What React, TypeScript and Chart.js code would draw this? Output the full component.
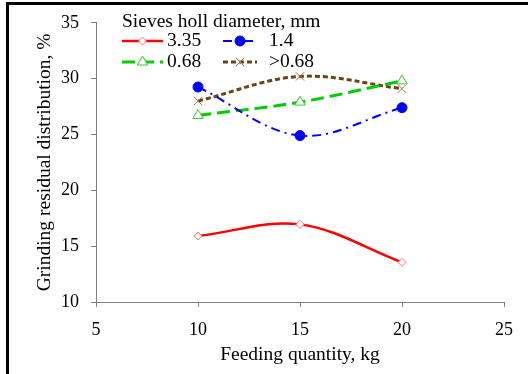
import React, { useEffect, useRef } from 'react';
import { Chart, registerables } from 'chart.js';

Chart.register(...registerables);

// ---- data ----
const feeding = [10, 15, 20];
const s335 = [15.9, 16.95, 13.55];
const s14 = [29.25, 24.9, 27.4];
const s068 = [26.7, 27.9, 29.8];
const sGt068 = [28.0, 30.2, 29.1];
const seriesLabels = ['3.35', '1.4', '0.68', '>0.68'];
const xRange = [5, 25];
const yRange = [10, 35];
const tickStep = 5;
const legendTitle = 'Sieves holl diameter, mm';
const xTitle = 'Feeding quantity, kg';
const yTitle = 'Grinding residual distribution, %';

const FONT = "'Liberation Serif', 'Times New Roman', serif";
const FS_TICK = 18;
const FS_TITLE = 19.5;

function drawMarker(ctx: CanvasRenderingContext2D, style: string, x: number, y: number, r: number, fill: string, stroke: string, lw: number) {
  ctx.save();
  ctx.setLineDash([]);
  ctx.lineWidth = lw;
  ctx.strokeStyle = stroke;
  ctx.fillStyle = fill;
  ctx.beginPath();
  if (style === 'rectRot') {
    ctx.moveTo(x, y - r); ctx.lineTo(x + r, y); ctx.lineTo(x, y + r); ctx.lineTo(x - r, y); ctx.closePath();
    ctx.fill(); ctx.stroke();
  } else if (style === 'circle') {
    ctx.arc(x, y, r, 0, Math.PI * 2); ctx.fill(); ctx.stroke();
  } else if (style === 'triangle') {
    ctx.moveTo(x, y - r); ctx.lineTo(x + r * 0.866, y + r * 0.5); ctx.lineTo(x - r * 0.866, y + r * 0.5); ctx.closePath();
    ctx.fill(); ctx.stroke();
  } else if (style === 'crossRot') {
    const d = r * 0.7071;
    ctx.moveTo(x - d, y - d); ctx.lineTo(x + d, y + d);
    ctx.moveTo(x + d, y - d); ctx.lineTo(x - d, y + d);
    ctx.stroke();
  }
  ctx.restore();
}

const framePlugin = {
  id: 'frame',
  afterDraw(chart: any) {
    const ctx = chart.ctx as CanvasRenderingContext2D;
    ctx.save();
    ctx.fillStyle = '#000';
    ctx.fillRect(6, 2, 528, 3);
    ctx.fillRect(6, 2, 3, 374);
    ctx.restore();
  },
};

const legendPlugin = {
  id: 'customLegend',
  afterDraw(chart: any) {
    const ctx = chart.ctx as CanvasRenderingContext2D;
    ctx.save();
    ctx.font = `${FS_TITLE}px ${FONT}`;
    ctx.fillStyle = '#000';
    ctx.textBaseline = 'middle';
    ctx.textAlign = 'left';
    ctx.fillText(legendTitle, 122, 22);
    const cols = [{ x0: 122, x1: 163, tx: 167 }, { x0: 223, x1: 257, tx: 269 }];
    const rows = [41, 62];
    chart.data.datasets.forEach((ds: any, i: number) => {
      const c = cols[i % 2];
      const y = rows[Math.floor(i / 2)];
      ctx.save();
      ctx.strokeStyle = ds.borderColor;
      ctx.lineWidth = ds.borderWidth;
      ctx.setLineDash(ds.borderDash || []);
      ctx.beginPath();
      ctx.moveTo(c.x0, y);
      ctx.lineTo(c.x1, y);
      ctx.stroke();
      ctx.restore();
      drawMarker(ctx, ds.pointStyle, (c.x0 + c.x1) / 2, y, ds.pointRadius, ds.pointBackgroundColor, ds.pointBorderColor, ds.pointBorderWidth);
      ctx.fillStyle = '#000';
      ctx.fillText(ds.label, c.tx, y);
    });
    ctx.restore();
  },
};

export default function App() {
  const ref = useRef<HTMLCanvasElement>(null);
  useEffect(() => {
    if (!ref.current) return;
    const mk = (vals: number[]) => feeding.map((x, i) => ({ x, y: vals[i] }));
    const chart = new Chart(ref.current, {
      type: 'line',
      data: {
        datasets: [
          {
            label: seriesLabels[0], data: mk(s335), borderColor: '#ff0000', borderWidth: 2.5, borderDash: [],
            pointStyle: 'rectRot', pointRadius: 4, pointBackgroundColor: '#ffffff', pointBorderColor: '#ff7070', pointBorderWidth: 1,
          },
          {
            label: seriesLabels[1], data: mk(s14), borderColor: '#0000ff', borderWidth: 2, borderDash: [9, 5, 2, 5],
            pointStyle: 'circle', pointRadius: 5, pointBackgroundColor: '#0000ff', pointBorderColor: '#0000ff', pointBorderWidth: 1,
          },
          {
            label: seriesLabels[2], data: mk(s068), borderColor: '#00cc00', borderWidth: 3, borderDash: [13, 6],
            pointStyle: 'triangle', pointRadius: 6, pointBackgroundColor: '#ffffff', pointBorderColor: '#33cc33', pointBorderWidth: 1,
          },
          {
            label: seriesLabels[3], data: mk(sGt068), borderColor: '#6b4314', borderWidth: 3, borderDash: [5, 3],
            pointStyle: 'crossRot', pointRadius: 6, pointBackgroundColor: '#9c7a5a', pointBorderColor: '#9c7a5a', pointBorderWidth: 1,
          },
        ] as any,
      },
      options: {
        responsive: false,
        animation: false,
        devicePixelRatio: 1,
        layout: { padding: { left: 0, top: 20, right: 24, bottom: 0 } },
        elements: { line: { tension: 0.35, fill: false } },
        plugins: { legend: { display: false }, tooltip: { enabled: false } },
        scales: {
          x: {
            type: 'linear', min: xRange[0], max: xRange[1],
            ticks: { stepSize: tickStep, color: '#000', font: { family: FONT, size: FS_TICK }, padding: 12, maxRotation: 0 },
            grid: { display: true, drawOnChartArea: false, drawTicks: true, tickLength: 5, color: '#808080' },
            border: { display: true, color: '#808080', width: 1 },
            title: { display: true, text: xTitle, color: '#000', font: { family: FONT, size: FS_TITLE }, padding: { top: 0, bottom: 7 } },
            afterFit: (s: any) => { s.height = 72; },
          },
          y: {
            type: 'linear', min: yRange[0], max: yRange[1],
            ticks: { stepSize: tickStep, color: '#000', font: { family: FONT, size: FS_TICK }, padding: 12 },
            grid: { display: true, drawOnChartArea: false, drawTicks: true, tickLength: 5, color: '#808080' },
            border: { display: true, color: '#808080', width: 1 },
            title: { display: true, text: yTitle, color: '#000', font: { family: FONT, size: FS_TITLE }, padding: { top: 33, bottom: 0 } },
            afterFit: (s: any) => { s.width = 96; },
          },
        },
      } as any,
      plugins: [legendPlugin, framePlugin],
    });
    return () => chart.destroy();
  }, []);
  return (
    <div style={{ position: 'absolute', left: 0, top: 0, width: 528, height: 374, background: '#fff' }}>
      <canvas ref={ref} width={528} height={374} style={{ display: 'block' }} />
    </div>
  );
}
